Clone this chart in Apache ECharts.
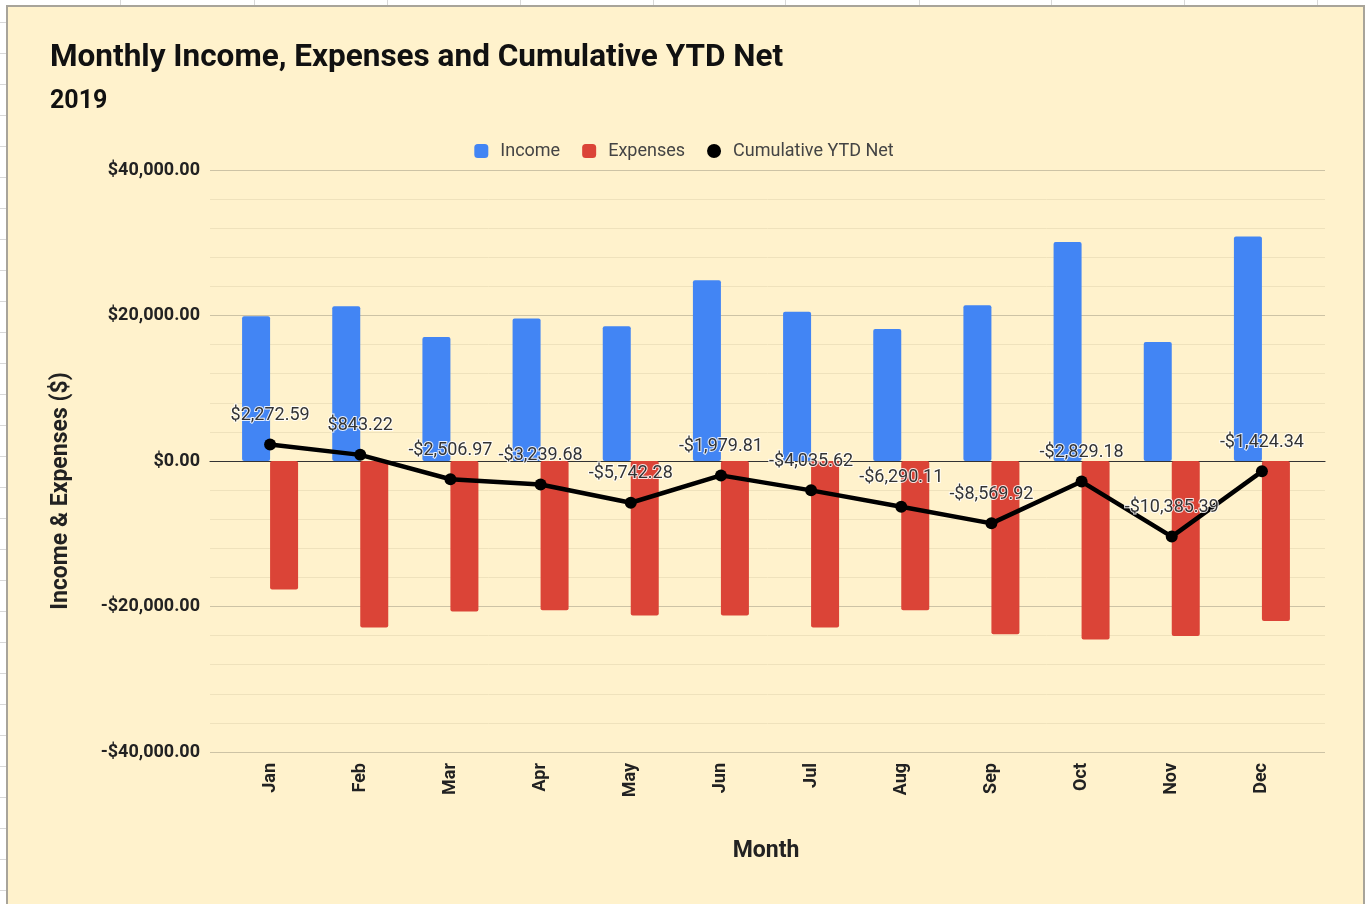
<!DOCTYPE html>
<html>
<head>
<meta charset="utf-8">
<script src="https://cdn.jsdelivr.net/npm/echarts@6/dist/echarts.min.js"></script>
<style>
  html, body { margin:0; padding:0; background:#ffffff; width:1368px; height:904px; overflow:hidden; }
  #sheet { position:absolute; left:0; top:0; width:1368px; height:904px; }
  .vline { position:absolute; top:0; width:1px; height:5px; background:#d8d8d8; }
  .hline { position:absolute; left:0; width:6px; height:1px; background:#d8d8d8; }
  #panel { position:absolute; left:6px; top:5px; width:1359px; height:905px; background:#fff2cc;
           border-left:2px solid #a8a49a; border-top:2px solid #a8a49a; border-right:2px solid #a8a49a; box-sizing:border-box; }
  #chart { position:absolute; left:0; top:0; width:1368px; height:904px; }
</style>
</head>
<body>
<div id="sheet"></div>
<div id="panel"></div>
<div id="chart"></div>
<script>
// ---- data ----
const months = ['Jan','Feb','Mar','Apr','May','Jun','Jul','Aug','Sep','Oct','Nov','Dec'];
const income = [19900, 21280, 17060, 19580, 18520, 24860, 20500, 18160, 21420, 30100, 16370, 30850];
const expenses = [-17650, -22900, -20700, -20500, -21250, -21250, -22900, -20520, -23800, -24550, -24040, -22000];
const cumulativeNet = [2272.59, 843.22, -2506.97, -3239.68, -5742.28, -1979.81, -4035.62, -6290.11, -8569.92, -2829.18, -10385.39, -1424.34];
const yTicks = { min: -40000, max: 40000, interval: 20000 };
const seriesNames = ['Income', 'Expenses', 'Cumulative YTD Net'];
const titleText = 'Monthly Income, Expenses and Cumulative YTD Net';
const subtitleText = '2019';
const yAxisTitle = 'Income & Expenses ($)';
const xAxisTitle = 'Month';

// spreadsheet grid remnants outside the chart
(function(){
  const sheet = document.getElementById('sheet');
  const cols = [120, 254, 387, 520, 653, 785, 919, 1051, 1184, 1317];
  cols.forEach(x => { const d = document.createElement('div'); d.className='vline'; d.style.left = x+'px'; sheet.appendChild(d); });
  for (let y = 22; y < 904; y += 31) { const d = document.createElement('div'); d.className='hline'; d.style.top = y+'px'; sheet.appendChild(d); }
})();

function money(v) {
  const s = Math.abs(v).toLocaleString('en-US', { minimumFractionDigits: 2, maximumFractionDigits: 2 });
  return (v < 0 ? '-' : '') + '$' + s;
}

const FONT = 'Roboto';
const chart = echarts.init(document.getElementById('chart'), null, { renderer: 'canvas' });

const option = {
  backgroundColor: 'transparent',
  animation: false,
  title: [
    { text: titleText, left: 45, top: 37, textStyle: { fontFamily: FONT, fontSize: 31.5, fontWeight: 'bold', color: '#111' } },
    { text: subtitleText, left: 45, top: 84, textStyle: { fontFamily: FONT, fontSize: 25, fontWeight: 'bold', color: '#111' } }
  ],
  legend: {
    top: 137,
    left: 'center',
    itemWidth: 14,
    itemHeight: 14,
    itemGap: 22,
    textStyle: { fontFamily: FONT, fontSize: 18, color: '#444', padding: [0, 0, 0, 7] },
    data: [
      { name: seriesNames[0], icon: 'roundRect' },
      { name: seriesNames[1], icon: 'roundRect' },
      { name: seriesNames[2], icon: 'circle' }
    ]
  },
  grid: [
    { left: 210, right: 43, top: 170, bottom: 152, containLabel: false },
    { left: 225, right: 61, top: 170, bottom: 152, containLabel: false }
  ],
  xAxis: [
    { gridIndex: 0, type: 'value', min: 0, max: 1, show: true,
      axisLine: { show: true, onZero: true, lineStyle: { color: '#333', width: 1.2 } },
      axisTick: { show: false }, axisLabel: { show: false }, splitLine: { show: false } },
    { gridIndex: 1, type: 'category', data: months, boundaryGap: true,
      axisLine: { show: false, onZero: false }, axisTick: { show: false },
      axisLabel: { rotate: 90, margin: 11, fontFamily: FONT, fontSize: 18, fontWeight: 'bold', color: '#222' },
      name: xAxisTitle, nameLocation: 'middle', nameGap: 88,
      nameTextStyle: { fontFamily: FONT, fontSize: 23, fontWeight: 'bold', color: '#222' } }
  ],
  yAxis: [
    { gridIndex: 0, type: 'value', min: yTicks.min, max: yTicks.max, interval: yTicks.interval,
      axisLine: { show: false }, axisTick: { show: false },
      axisLabel: { margin: 10, fontFamily: FONT, fontSize: 18, fontWeight: 'bold', color: '#222', formatter: money },
      splitLine: { show: true, lineStyle: { color: '#cdc3a5', width: 1.2 } },
      minorTick: { show: false, splitNumber: 5 },
      minorSplitLine: { show: true, lineStyle: { color: '#efe2bc', width: 1 } } },
    { gridIndex: 1, type: 'value', min: yTicks.min, max: yTicks.max, interval: yTicks.interval, show: false,
      splitLine: { show: false } }
  ],
  series: [
    { name: seriesNames[0], type: 'bar', xAxisIndex: 1, yAxisIndex: 1, data: income,
      barWidth: 28, barGap: '0%', itemStyle: { color: '#4285f4', borderRadius: 2 }, z: 3 },
    { name: seriesNames[1], type: 'bar', xAxisIndex: 1, yAxisIndex: 1, data: expenses,
      barWidth: 28, barGap: '0%', itemStyle: { color: '#db4437', borderRadius: 2 }, z: 3 },
    { name: seriesNames[2], type: 'line', xAxisIndex: 1, yAxisIndex: 1, data: cumulativeNet,
      symbol: 'circle', symbolSize: 12, z: 5,
      lineStyle: { color: '#000', width: 4.5 }, itemStyle: { color: '#000' },
      label: { show: true, position: 'top', distance: 14, formatter: p => money(p.value),
        fontFamily: FONT, fontSize: 18, color: '#333',
        textBorderColor: 'rgba(255,255,255,0.85)', textBorderWidth: 2 } }
  ],
  graphic: [
    { type: 'text', x: 61, y: 491, rotation: Math.PI / 2,
      style: { text: yAxisTitle, font: 'bold 23px Roboto', fill: '#222', align: 'center', verticalAlign: 'middle' } }
  ]
};
chart.setOption(option);
</script>
</body>
</html>
